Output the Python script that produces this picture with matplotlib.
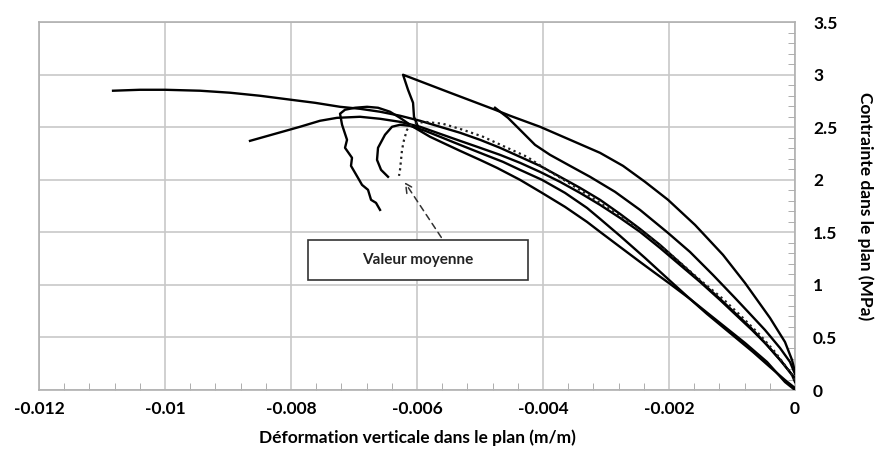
import matplotlib
matplotlib.use("Agg")
import matplotlib.pyplot as plt
from matplotlib.ticker import MultipleLocator, FuncFormatter
from matplotlib.patches import Rectangle

plt.rcParams['font.family'] = ['Lato', 'DejaVu Sans']

# courbes contrainte / deformation (deformation en m/m, contrainte en MPa)
eps_a = [0, -0.0000476, -0.000159, -0.000397, -0.000794, -0.001143, -0.001587, -0.002016,
         -0.002381, -0.00273, -0.003095, -0.003571, -0.004048, -0.004524, -0.004762,
         -0.005476, -0.006222, -0.006143, -0.006063, -0.006048, -0.005984]
sig_a = [0.171, 0.286, 0.457, 0.686, 1.019, 1.286, 1.571, 1.81, 1.981, 2.133, 2.257, 2.381,
         2.505, 2.61, 2.667, 2.829, 3.0, 2.857, 2.733, 2.6, 2.505]

eps_b = [0, -0.0000794, -0.000238, -0.000476, -0.000714, -0.000952, -0.001302, -0.001667,
         -0.002016, -0.00246, -0.002857, -0.003254, -0.003571, -0.003889, -0.004127,
         -0.004365, -0.004556, -0.004762]
sig_b = [0.152, 0.267, 0.4, 0.571, 0.724, 0.876, 1.095, 1.314, 1.495, 1.714, 1.886, 2.029,
         2.133, 2.238, 2.333, 2.476, 2.59, 2.686]

eps_c = [0, -0.0000794, -0.000238, -0.000476, -0.000714, -0.000952, -0.00119, -0.001508,
         -0.001825, -0.002143, -0.00246, -0.002778, -0.003095, -0.003413, -0.00373,
         -0.004048, -0.004365, -0.004683, -0.005, -0.005317, -0.005635, -0.005952, -0.00627,
         -0.006587, -0.006905, -0.007222, -0.007619, -0.008, -0.008492, -0.008968, -0.009444,
         -0.01, -0.010397, -0.010825]
sig_c = [0.114, 0.171, 0.286, 0.448, 0.6, 0.733, 0.867, 1.038, 1.21, 1.381, 1.533, 1.676,
         1.81, 1.924, 2.029, 2.133, 2.219, 2.305, 2.381, 2.448, 2.505, 2.562, 2.61, 2.648,
         2.676, 2.695, 2.733, 2.762, 2.8, 2.829, 2.848, 2.857, 2.857, 2.848]

eps_d = [0, -0.0000476, -0.000206, -0.000444, -0.000683, -0.000921, -0.00119, -0.001508,
         -0.001825, -0.002143, -0.00246, -0.002778, -0.003095, -0.003413, -0.00373,
         -0.004048, -0.004365, -0.004683, -0.005, -0.005317, -0.005635, -0.005952, -0.00627,
         -0.006587, -0.006905, -0.00727, -0.00754, -0.007857, -0.008254, -0.008651]
sig_d = [0.076, 0.143, 0.267, 0.429, 0.571, 0.705, 0.857, 1.029, 1.19, 1.352, 1.505, 1.638,
         1.762, 1.876, 1.981, 2.076, 2.162, 2.238, 2.305, 2.371, 2.438, 2.505, 2.552, 2.581,
         2.6, 2.59, 2.562, 2.505, 2.438, 2.371]

eps_e = [0, -0.000159, -0.000397, -0.000667, -0.001032, -0.001397, -0.001667, -0.002,
         -0.002381, -0.002778, -0.003095, -0.003302, -0.003651, -0.004016, -0.004365,
         -0.004635, -0.00492, -0.005159, -0.005397, -0.005635, -0.005873, -0.006111,
         -0.00627, -0.006397, -0.006508, -0.006619, -0.006635, -0.006571, -0.00646]
sig_e = [0.019, 0.095, 0.219, 0.362, 0.543, 0.724, 0.867, 1.048, 1.257, 1.467, 1.629, 1.733,
         1.876, 2.0, 2.095, 2.171, 2.238, 2.295, 2.352, 2.41, 2.467, 2.514, 2.524, 2.505,
         2.429, 2.305, 2.19, 2.095, 2.029]

eps_f = [0, -0.000159, -0.000444, -0.000794, -0.001111, -0.001349, -0.001667, -0.001984,
         -0.002222, -0.00246, -0.002778, -0.003095, -0.003302, -0.003651, -0.004016,
         -0.004365, -0.00473, -0.005, -0.005317, -0.005556, -0.005794, -0.006063, -0.00627,
         -0.006429, -0.006619, -0.006794, -0.006984, -0.007143, -0.007222, -0.00719,
         -0.007111, -0.007143, -0.007032, -0.007048, -0.006937, -0.006873, -0.006778,
         -0.00673, -0.006651, -0.006587]
sig_f = [0, 0.076, 0.267, 0.448, 0.6, 0.714, 0.867, 1.01, 1.114, 1.219, 1.362, 1.505, 1.6,
         1.743, 1.876, 2.0, 2.114, 2.19, 2.276, 2.343, 2.41, 2.505, 2.59, 2.648, 2.686, 2.695,
         2.686, 2.667, 2.629, 2.524, 2.381, 2.305, 2.21, 2.133, 2.019, 1.952, 1.905, 1.81,
         1.781, 1.714]

# valeur moyenne
eps_moy = [0, -0.0000794, -0.000317, -0.000556, -0.000873, -0.001143, -0.001508, -0.002,
           -0.002381, -0.002778, -0.003095, -0.003619, -0.003937, -0.004254, -0.004603,
           -0.004952, -0.00527, -0.005587, -0.005873, -0.006079, -0.006159, -0.006206,
           -0.006238, -0.006254, -0.00627, -0.006286]
sig_moy = [0.095, 0.171, 0.362, 0.524, 0.714, 0.867, 1.048, 1.305, 1.486, 1.657, 1.781,
           1.981, 2.095, 2.219, 2.314, 2.41, 2.476, 2.533, 2.552, 2.533, 2.476, 2.381, 2.286,
           2.19, 2.095, 2.038]

courbes = [(eps_a, sig_a), (eps_b, sig_b), (eps_c, sig_c),
           (eps_d, sig_d), (eps_e, sig_e), (eps_f, sig_f)]

fig = plt.figure(figsize=(8.81, 4.53), dpi=100)
ax = fig.add_axes([0.0443, 0.139, 0.8581, 0.812])

for eps, sig in courbes:
    ax.plot(eps, sig, color='black', lw=1.7, zorder=3, solid_joinstyle='round')
ax.plot(eps_moy, sig_moy, color='#222222', lw=1.6, ls=(0, (1, 1.6)), zorder=4)

# boite "Valeur moyenne" + fleche pointillee
ax.add_patch(Rectangle((-0.00773, 1.05), 0.00349, 0.38, facecolor='white',
                       edgecolor='#333333', lw=1.2, zorder=5))
ax.text(-0.005985, 1.24, 'Valeur moyenne', ha='center', va='center', fontsize=11,
        fontweight='bold', color='#222222', zorder=6)
ax.annotate('', xy=(-0.00622, 2.0), xytext=(-0.00559, 1.43),
            arrowprops=dict(arrowstyle='->', linestyle=(0, (4, 3)), color='#333333',
                            lw=1.1, mutation_scale=16), zorder=6)

ax.set_xlim(-0.012, 0)
ax.set_ylim(0, 3.5)
ax.xaxis.set_major_locator(MultipleLocator(0.002))
ax.xaxis.set_minor_locator(MultipleLocator(0.0004))
ax.yaxis.set_major_locator(MultipleLocator(0.5))
ax.yaxis.set_minor_locator(MultipleLocator(0.1))
fmt = FuncFormatter(lambda v, p: '0' if abs(v) < 1e-12 else f'{v:g}')
ax.xaxis.set_major_formatter(fmt)
ax.yaxis.set_major_formatter(fmt)

ax.yaxis.tick_right()
ax.yaxis.set_label_position('right')
ax.grid(True, which='major', color='#c8c8c8', lw=1.2, zorder=0)
for s in ax.spines.values():
    s.set_color('#b0b0b0')
    s.set_linewidth(1.2)
ax.tick_params(which='both', direction='in', color='#a0a0a0', labelsize=12.5)
ax.tick_params(which='major', length=0)
ax.tick_params(which='minor', length=5)
ax.tick_params(axis='x', pad=8)
ax.tick_params(axis='y', pad=13)
for lab in ax.get_xticklabels() + ax.get_yticklabels():
    lab.set_fontweight('bold')

ax.set_xlabel('Déformation verticale dans le plan (m/m)', fontsize=12.5, fontweight='bold',
              labelpad=9)
ax.set_ylabel('Contrainte dans le plan (MPa)', fontsize=12.5, fontweight='bold',
              rotation=-90, labelpad=26)

fig.savefig('out.png', dpi=100)
